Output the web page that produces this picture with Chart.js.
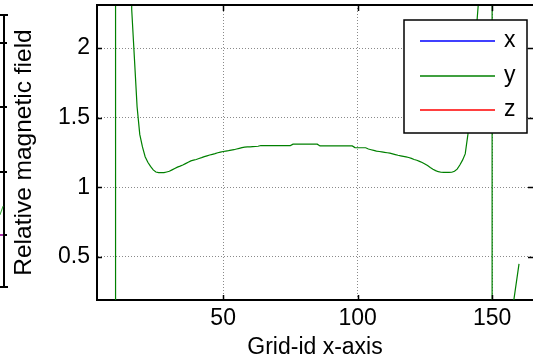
<!DOCTYPE html>
<html><head><meta charset="utf-8">
<script src="https://cdn.jsdelivr.net/npm/chart.js@4.4.0/dist/chart.umd.min.js"></script>
<style>
html,body{margin:0;padding:0;background:#fff;overflow:hidden;}
#wrap{position:relative;width:533px;height:361px;}
canvas{position:absolute;left:0;top:0;}
.k{position:absolute;background:#000;}
</style></head><body>
<div id="wrap">
<canvas id="c" width="533" height="361"></canvas>
<!-- partial neighbouring axis at the far left -->
<div class="k" style="left:3px;top:14px;width:2px;height:274px"></div>
<div class="k" style="left:0px;top:14px;width:8px;height:2px"></div>
<div class="k" style="left:0px;top:42px;width:7px;height:2px"></div>
<div class="k" style="left:0px;top:106px;width:7px;height:2px"></div>
<div class="k" style="left:0px;top:171px;width:7px;height:2px"></div>
<div class="k" style="left:0px;top:234px;width:7px;height:2px"></div>
<div class="k" style="left:0px;top:286px;width:8px;height:2px"></div>
<div style="position:absolute;left:1px;top:206px;width:1px;height:9px;background:#3a3;transform:rotate(20deg)"></div>
<div style="position:absolute;left:0px;top:234px;width:3px;height:2px;background:#a3a"></div>
</div>
<script>
// ---- data ----
const seriesLabels = ['x', 'y', 'z'];
const seriesColors = ['#0000ff', '#008000', '#ff0000'];
const xGridIds = [];          // x component: not visible in this view
const xValues = [];
const zGridIds = [];          // z component: not visible in this view
const zValues = [];
const yGridIds = [10, 10, 16, 17, 18, 19, 20, 21, 22, 23, 24, 25, 26, 27, 28, 29, 30,
  31, 32, 33, 34, 35, 36, 37, 38, 39, 40, 41, 42, 43, 44, 45, 46, 47, 48, 49, 50,
  51, 52, 53, 54, 55, 56, 57, 58, 59, 60, 61, 62, 63, 64, 65, 66, 67, 68, 69, 70,
  71, 72, 73, 74, 75, 76, 77, 78, 79, 80, 81, 82, 83, 84, 85, 86, 87, 88, 89, 90,
  91, 92, 93, 94, 95, 96, 97, 98, 99, 100, 101, 102, 103, 104, 105, 106, 107, 108, 109, 110,
  111, 112, 113, 114, 115, 116, 117, 118, 119, 120, 121, 122, 123, 124, 125, 126, 127, 128, 129, 130,
  131, 132, 133, 134, 135, 136, 137, 138, 139, 140, 141, 142, 143, 144, 145, 146, 147, 148, 149, 150,
  150, 157, 158, 160];
const yValues = [-1000, 1000, 2.28, 1.93, 1.58, 1.38, 1.29, 1.22, 1.18, 1.15, 1.125, 1.11, 1.105, 1.105, 1.105, 1.11, 1.115,
  1.125, 1.135, 1.145, 1.152, 1.16, 1.17, 1.18, 1.19, 1.195, 1.2, 1.207, 1.213, 1.22, 1.226, 1.232, 1.237, 1.242, 1.248, 1.253, 1.257,
  1.26, 1.263, 1.267, 1.27, 1.275, 1.28, 1.285, 1.288, 1.29, 1.291, 1.292, 1.293, 1.295, 1.3, 1.3, 1.3, 1.3, 1.3, 1.3, 1.3,
  1.3, 1.3, 1.3, 1.3, 1.3, 1.31, 1.31, 1.31, 1.31, 1.31, 1.31, 1.31, 1.31, 1.31, 1.31, 1.297, 1.297, 1.297, 1.297, 1.297,
  1.297, 1.297, 1.297, 1.297, 1.297, 1.297, 1.297, 1.297, 1.285, 1.284, 1.284, 1.284, 1.284, 1.275, 1.27, 1.265, 1.26, 1.257, 1.254, 1.251,
  1.248, 1.245, 1.24, 1.235, 1.23, 1.226, 1.222, 1.218, 1.214, 1.208, 1.2, 1.194, 1.186, 1.178, 1.168, 1.156, 1.142, 1.13, 1.12, 1.112,
  1.108, 1.107, 1.107, 1.107, 1.108, 1.115, 1.13, 1.16, 1.195, 1.24, 1.38, 1.62, 1.86, 2.1, 2.35, 2.6, 2.9, 3.3, 3.9, 1000,
  -1000, -0.05, 0.18, 0.45];
const xTicks = [50, 100, 150];
const xTickLabels = ['50', '100', '150'];
const yTicks = [0.5, 1, 1.5, 2];
const yTickLabels = ['0.5', '1', '1.5', '2'];
const xTitle = 'Grid-id x-axis';
const yTitle = 'Relative magnetic field';

// ---- chart ----
const FONT = "'Liberation Sans', Arial, Helvetica, sans-serif";
const FS = 23;
const pts = (xs, ys) => xs.map((g, i) => ({x: g, y: ys[i]}));
const idsBySeries = [xGridIds, yGridIds, zGridIds];
const valsBySeries = [xValues, yValues, zValues];

const frame = {
  id: 'frame',
  afterDraw(chart) {
    const {ctx, chartArea: a, scales: {x, y}} = chart;
    ctx.save();
    ctx.strokeStyle = '#000';
    ctx.lineWidth = 2;
    ctx.beginPath();
    ctx.moveTo(a.left - 1, a.top); ctx.lineTo(a.right, a.top);
    ctx.stroke();
    ctx.lineWidth = 1.5;
    ctx.beginPath();
    xTicks.forEach(v => {
      const p = Math.round(x.getPixelForValue(v)) + 0.5;
      ctx.moveTo(p, a.bottom); ctx.lineTo(p, a.bottom - 5);
      ctx.moveTo(p, a.top); ctx.lineTo(p, a.top + 6);
    });
    yTicks.forEach(v => {
      const p = Math.round(y.getPixelForValue(v)) + 0.5;
      ctx.moveTo(a.left, p); ctx.lineTo(a.left + 5, p);
      ctx.moveTo(a.right, p); ctx.lineTo(a.right - 5, p);
    });
    ctx.stroke();
    // legend box
    const L = a.right - 129, T = a.top + 15, W = 123, H = 113;
    ctx.fillStyle = '#fff';
    ctx.fillRect(L, T, W, H);
    ctx.lineWidth = 1.5;
    ctx.strokeStyle = '#000';
    ctx.strokeRect(L, T, W, H);
    ctx.font = FS + 'px ' + FONT;
    ctx.textBaseline = 'alphabetic';
    ctx.textAlign = 'left';
    const rows = [21, 56, 90];
    chart.data.datasets.forEach((ds, i) => {
      const ly = T + rows[i];
      ctx.strokeStyle = ds.borderColor;
      ctx.lineWidth = 1.5;
      ctx.beginPath(); ctx.moveTo(L + 16, ly); ctx.lineTo(L + 91, ly); ctx.stroke();
      ctx.fillStyle = '#000';
      ctx.fillText(ds.label, L + 100, ly + 6);
    });
    ctx.restore();
  }
};

new Chart(document.getElementById('c'), {
  type: 'line',
  data: {
    datasets: seriesLabels.map((lab, i) => ({
      label: lab,
      data: pts(idsBySeries[i], valsBySeries[i]),
      borderColor: seriesColors[i],
      backgroundColor: seriesColors[i],
      borderWidth: 1.2,
      pointRadius: 0,
      tension: 0,
      fill: false
    }))
  },
  options: {
    responsive: false,
    animation: false,
    devicePixelRatio: 1,
    layout: {padding: {top: 5, left: 0, right: 0, bottom: 0}},
    plugins: {legend: {display: false}, tooltip: {enabled: false}},
    scales: {
      x: {
        type: 'linear',
        min: 3.1, max: 165.2,
        afterBuildTicks: s => { s.ticks = xTicks.map(v => ({value: v})); },
        afterFit: s => { s.height = 61; s.paddingLeft = 0; s.paddingRight = 0; },
        ticks: {
          padding: 5, color: '#000', maxRotation: 0, autoSkip: false,
          font: {family: FONT, size: FS},
          callback: (v) => xTickLabels[xTicks.indexOf(v)]
        },
        grid: {color: '#8a8a8a', lineWidth: 1, drawTicks: false},
        border: {display: true, color: '#000', width: 2, dash: [1, 2]},
        title: {display: true, text: xTitle, color: '#000', font: {family: FONT, size: FS}, padding: {top: 0, bottom: 0}}
      },
      y: {
        type: 'linear',
        min: 0.19, max: 2.31,
        afterBuildTicks: s => { s.ticks = yTicks.map(v => ({value: v})); },
        afterFit: s => { s.width = 97; s.paddingTop = 0; s.paddingBottom = 0; },
        ticks: {
          padding: 7, color: '#000',
          font: {family: FONT, size: FS},
          callback: (v) => yTickLabels[yTicks.indexOf(v)]
        },
        grid: {color: '#8a8a8a', lineWidth: 1, drawTicks: false},
        border: {display: true, color: '#000', width: 2, dash: [1, 2]},
        title: {display: true, text: yTitle, color: '#000', font: {family: FONT, size: 24.5}, padding: {top: 10, bottom: 0}}
      }
    }
  },
  plugins: [frame]
});
</script>
</body></html>
